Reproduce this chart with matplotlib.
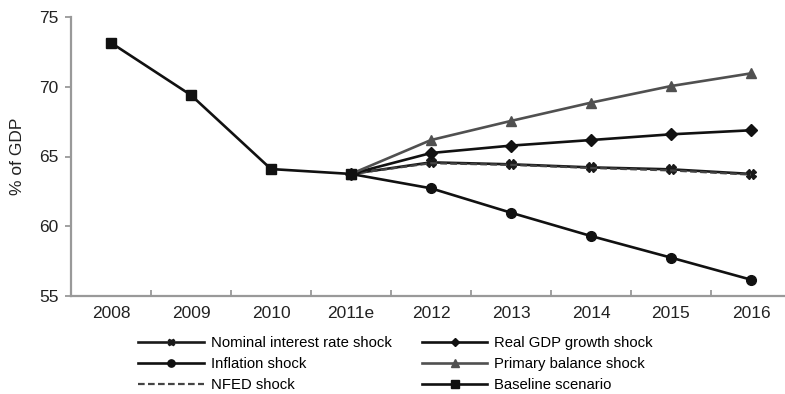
import numpy as np
import matplotlib.pyplot as plt

plt.rcParams['font.family'] = ['Liberation Sans', 'DejaVu Sans']

years = ['2008', '2009', '2010', '2011e', '2012', '2013', '2014', '2015', '2016']
proj_years = ['2011e', '2012', '2013', '2014', '2015', '2016']

baseline = [73.15, 69.4, 64.1, 63.75]
nominal = [63.75, 64.58, 64.44, 64.22, 64.08, 63.75]
real_gdp = [63.75, 65.25, 65.78, 66.18, 66.59, 66.88]
inflation = [63.75, 62.72, 60.97, 59.3, 57.75, 56.17]
primary = [63.75, 66.18, 67.55, 68.86, 70.05, 70.96]
nfed = [63.75, 64.52, 64.4, 64.18, 64.0, 63.7]

x_all = np.arange(len(years))
x_proj = np.arange(3, 3 + len(proj_years))

fig = plt.figure(figsize=(7.85, 3.94), dpi=100)
ax = fig.add_axes([71 / 785, 98 / 394, 720 / 785, 279 / 394])

lw = 1.9
h_nom, = ax.plot(x_proj, nominal, color='#1a1a1a', lw=lw, marker='X', ms=6.5, label='Nominal interest rate shock')
h_nfed, = ax.plot(x_proj, nfed, color='#444444', lw=1.6, ls=(0, (3, 1.5)), label='NFED shock')
h_inf, = ax.plot(x_proj, inflation, color='#111111', lw=lw, marker='o', ms=7, label='Inflation shock')
h_real, = ax.plot(x_proj, real_gdp, color='#111111', lw=lw, marker='D', ms=6, label='Real GDP growth shock')
h_prim, = ax.plot(x_proj, primary, color='#505050', lw=lw, marker='^', ms=7, label='Primary balance shock')
h_base, = ax.plot(x_all[:4], baseline, color='#111111', lw=lw, marker='s', ms=7, label='Baseline scenario', zorder=5)

ax.set_xlim(-0.5, 8.5)
ax.set_ylim(55, 75)
ax.set_yticks([55, 60, 65, 70, 75])
ax.set_xticks(x_all)
ax.set_xticklabels(years)
ax.set_xticks(np.arange(0.5, 8.5, 1), minor=True)
ax.tick_params(axis='x', which='major', length=0, pad=7, labelsize=12.5, colors='#222222')
ax.tick_params(axis='x', which='minor', direction='in', length=4, width=1.3, color='#999999')
ax.tick_params(axis='y', direction='out', length=4, width=1.3, color='#999999', labelsize=12.5, labelcolor='#222222', pad=5)

for s in ['top', 'right']:
    ax.spines[s].set_visible(False)
for s in ['left', 'bottom']:
    ax.spines[s].set_color('#999999')
    ax.spines[s].set_linewidth(1.6)

ax.set_ylabel('% of GDP', fontsize=12.5, color='#222222', labelpad=10)

handles = [h_nom, h_inf, h_nfed, h_real, h_prim, h_base]
fig.legend(handles=handles, labels=[h.get_label() for h in handles], ncol=2,
           loc='upper left', bbox_to_anchor=(131 / 785, (394 - 329) / 394),
           frameon=False, borderpad=0, handlelength=4.4, handletextpad=0.45,
           columnspacing=2.05, labelspacing=0.45, fontsize=10.7, markerscale=0.75)

fig.savefig('out.png', dpi=100)
